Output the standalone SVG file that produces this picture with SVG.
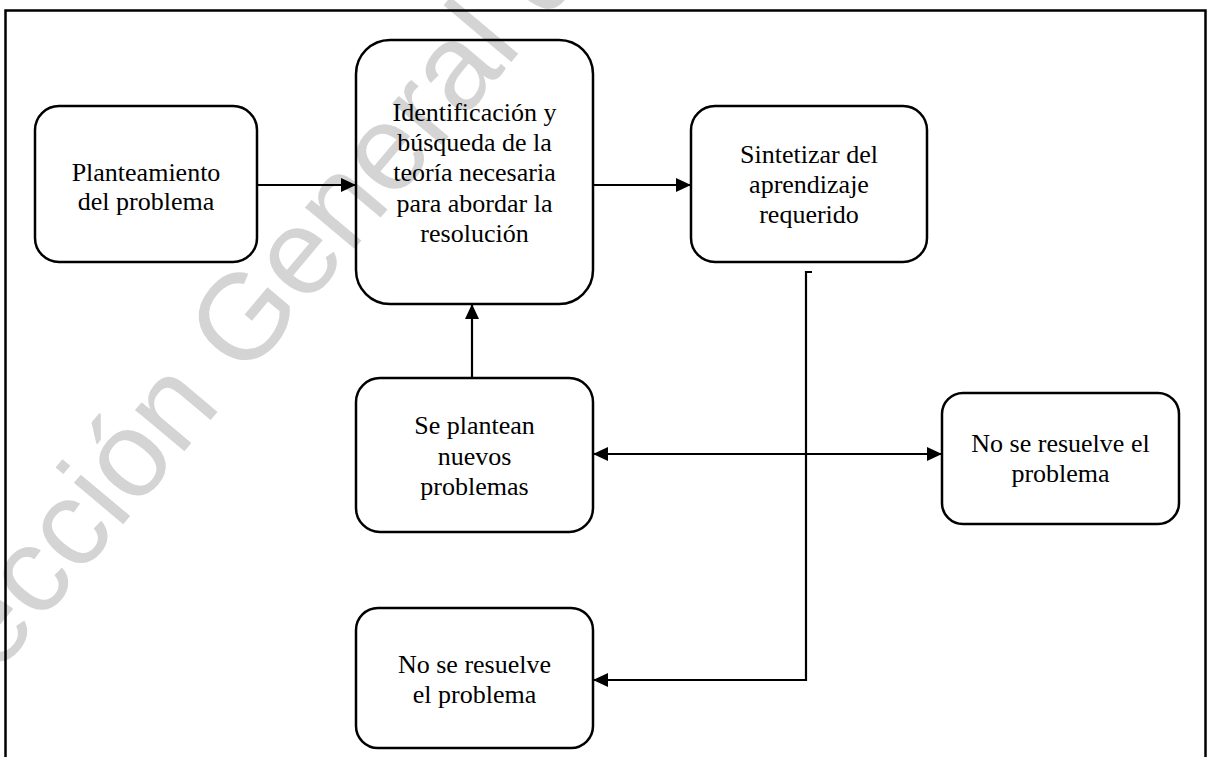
<svg xmlns="http://www.w3.org/2000/svg" width="1212" height="757" viewBox="0 0 1212 757">
  <style>
    .node rect { fill: none; stroke: #000; stroke-width: 2.5; }
    .node text { font-family: "Liberation Serif", "Times New Roman", serif; font-size: 26px; fill: #000; text-anchor: middle; }
    .conn { fill: none; stroke: #000; stroke-width: 2.2; }
    .mark { font-family: "Liberation Sans", Arial, sans-serif; font-size: 122px; fill: #d4d4d4; }
  </style>
  <defs>
    <marker id="ah" viewBox="0 0 15 14" refX="15" refY="7" markerWidth="15" markerHeight="14" markerUnits="userSpaceOnUse" orient="auto-start-reverse">
      <path d="M0,0 L15,7 L0,14 z" fill="#000"/>
    </marker>
  </defs>

  <rect width="1212" height="757" fill="#fff"/>

  <!-- watermark -->
  <text class="mark" transform="translate(-4,676) rotate(-50)">ección General de</text>

  <!-- outer frame -->
  <path d="M5.5,770 V10.5 H1205.5 V770" fill="none" stroke="#000" stroke-width="2.5"/>

  <g id="connectors">
    <line class="conn" x1="257" y1="185" x2="356" y2="185" marker-end="url(#ah)"/>
    <line class="conn" x1="593" y1="185" x2="691" y2="185" marker-end="url(#ah)"/>
    <line class="conn" x1="472" y1="378" x2="472" y2="304" marker-end="url(#ah)"/>
    <line class="conn" x1="593" y1="454" x2="942" y2="454" marker-start="url(#ah)" marker-end="url(#ah)"/>
    <path class="conn" d="M812,272 H806 V680 H593" marker-end="url(#ah)"/>
  </g>

  <g id="planteamiento" class="node">
    <rect x="35" y="106" width="222" height="156" rx="24"/>
    <text x="146" y="181">Planteamiento</text>
    <text x="146" y="210">del problema</text>
  </g>

  <g id="identificacion" class="node">
    <rect x="356" y="40" width="237" height="264" rx="34"/>
    <text x="474.5" y="120.5">Identificación y</text>
    <text x="474.5" y="150.5">búsqueda de la</text>
    <text x="474.5" y="181">teoría necesaria</text>
    <text x="474.5" y="211.5">para abordar la</text>
    <text x="474.5" y="242">resolución</text>
  </g>

  <g id="sintetizar" class="node">
    <rect x="691" y="106" width="236" height="156" rx="24"/>
    <text x="809" y="163">Sintetizar del</text>
    <text x="809" y="193">aprendizaje</text>
    <text x="809" y="223">requerido</text>
  </g>

  <g id="nuevos-problemas" class="node">
    <rect x="356" y="378" width="237" height="154" rx="24"/>
    <text x="474.5" y="434">Se plantean</text>
    <text x="474.5" y="465">nuevos</text>
    <text x="474.5" y="495">problemas</text>
  </g>

  <g id="no-resuelve-derecha" class="node">
    <rect x="942" y="393" width="237" height="131" rx="21"/>
    <text x="1060.5" y="452">No se resuelve el</text>
    <text x="1060.5" y="482">problema</text>
  </g>

  <g id="no-resuelve-abajo" class="node">
    <rect x="356" y="608" width="237" height="140" rx="22"/>
    <text x="474.5" y="673">No se resuelve</text>
    <text x="474.5" y="703">el problema</text>
  </g>
</svg>
